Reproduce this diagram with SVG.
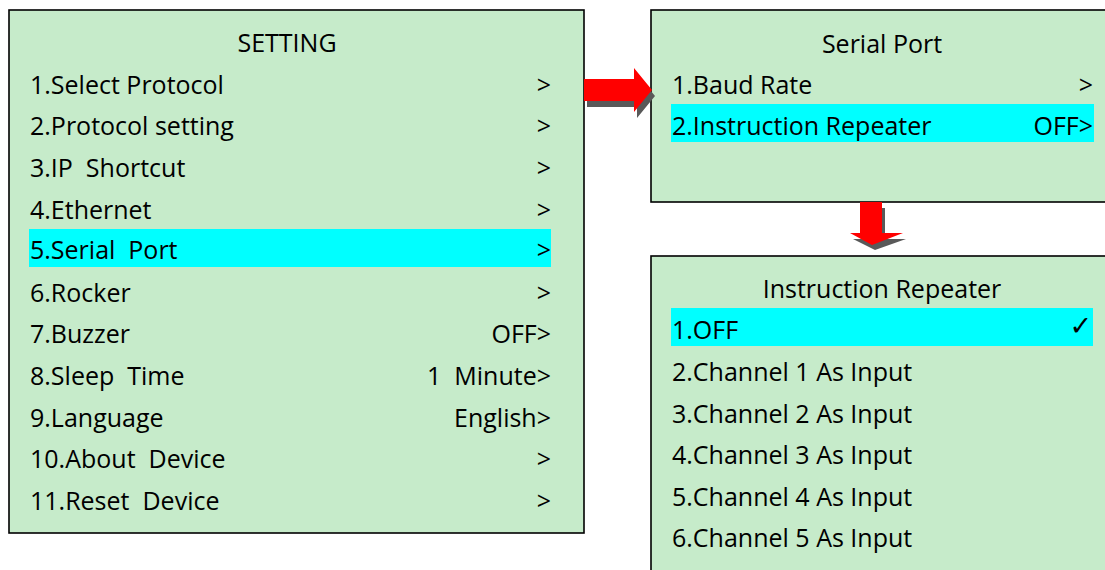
<svg xmlns="http://www.w3.org/2000/svg" width="1105" height="570" viewBox="0 0 1105 570">
<style>
.box{fill:#c6ebca;stroke:#000;stroke-width:1.6}
.hl{fill:#00ffff}
text{font-family:"Open Sans","Liberation Sans",sans-serif;font-size:25px;fill:#000}
.r{text-anchor:end}
.c{text-anchor:middle}
.arrow{fill:#ff0000}
.shadow{fill:#595959}
</style>
<rect width="1105" height="570" fill="#fff"/>
<g id="setting">
<rect class="box" x="9" y="10" width="575" height="523"/>
<rect class="hl" x="29" y="229" width="522" height="38"/>
<text class="c" x="287" y="52">SETTING</text>
<text x="30" y="94">1.Select Protocol</text><text class="r" x="551" y="94">&gt;</text>
<text x="30" y="135">2.Protocol setting</text><text class="r" x="551" y="135">&gt;</text>
<text x="30" y="177" xml:space="preserve">3.IP  Shortcut</text><text class="r" x="551" y="177">&gt;</text>
<text x="30" y="219">4.Ethernet</text><text class="r" x="551" y="219">&gt;</text>
<text x="30" y="259" xml:space="preserve">5.Serial  Port</text><text class="r" x="551" y="259">&gt;</text>
<text x="30" y="302">6.Rocker</text><text class="r" x="551" y="302">&gt;</text>
<text x="30" y="343">7.Buzzer</text><text class="r" x="551" y="343">OFF&gt;</text>
<text x="30" y="385" xml:space="preserve">8.Sleep  Time</text><text class="r" x="551" y="385" xml:space="preserve">1  Minute&gt;</text>
<text x="30" y="427">9.Language</text><text class="r" x="551" y="427">English&gt;</text>
<text x="30" y="468" xml:space="preserve">10.About  Device</text><text class="r" x="551" y="468">&gt;</text>
<text x="30" y="510" xml:space="preserve">11.Reset  Device</text><text class="r" x="551" y="510">&gt;</text>
</g>
<g id="serial-port">
<rect class="box" x="651" y="10" width="470" height="192"/>
<rect class="hl" x="671" y="104" width="423" height="38"/>
<text class="c" x="882" y="53">Serial Port</text>
<text x="672" y="94">1.Baud Rate</text><text class="r" x="1093" y="94">&gt;</text>
<text x="672" y="135">2.Instruction Repeater</text><text class="r" x="1093" y="135">OFF&gt;</text>
</g>
<g id="instruction-repeater">
<rect class="box" x="651" y="256" width="470" height="330"/>
<rect class="hl" x="671" y="308" width="422" height="38"/>
<text class="c" x="882" y="298">Instruction Repeater</text>
<text x="672" y="339">1.OFF</text>
<text class="r" x="1092" y="335" style="font-family:'DejaVu Sans',sans-serif;font-size:27px;font-weight:bold">✓</text>
<text x="672" y="381">2.Channel 1 As Input</text>
<text x="672" y="423">3.Channel 2 As Input</text>
<text x="672" y="464">4.Channel 3 As Input</text>
<text x="672" y="506">5.Channel 4 As Input</text>
<text x="672" y="547">6.Channel 5 As Input</text>
</g>
<g id="connectors">
<polygon class="shadow" points="587,85 637,85 637,74 655,96 637,118 637,107 587,107"/>
<polygon class="arrow" points="584,79 634,79 634,68 652,90 634,112 634,101 584,101"/>
<polygon class="shadow" points="863,208 885,208 885,239 906,239 875,250 853,239 863,239"/>
<polygon class="arrow" points="860,202 882,202 882,233 903,233 872,245 850,233 860,233"/>
</g>
</svg>
